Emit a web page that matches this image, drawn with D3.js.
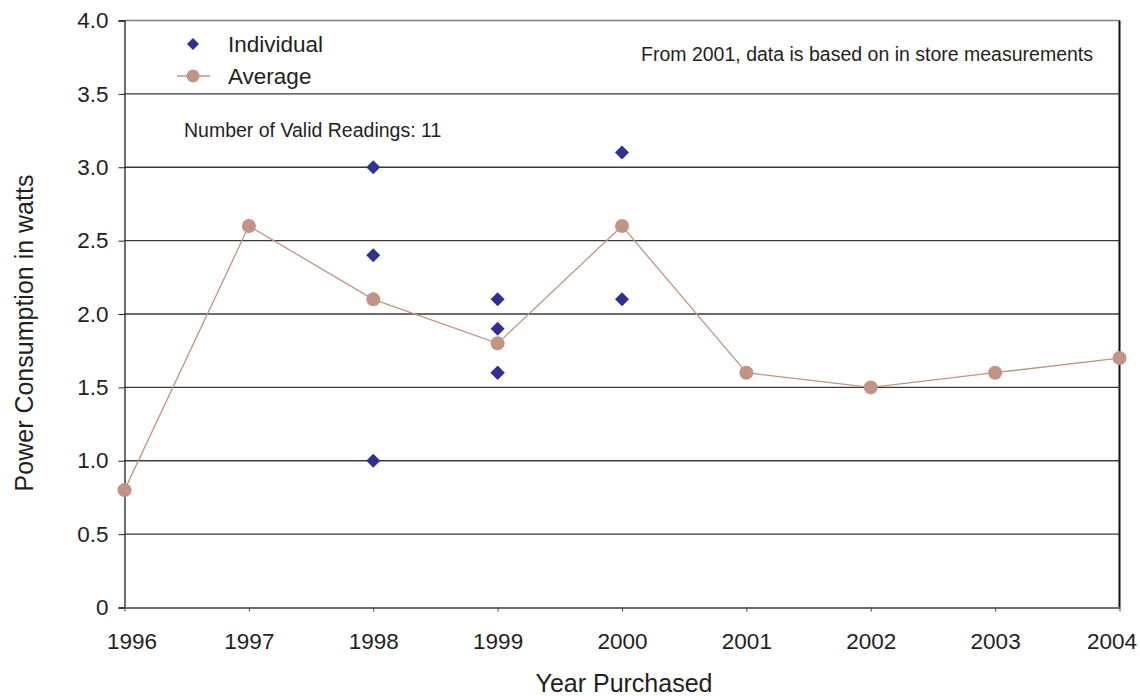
<!DOCTYPE html>
<html>
<head>
<meta charset="utf-8">
<script src="https://cdn.jsdelivr.net/npm/d3@7"></script>
<style>
  body { margin: 0; background: #fff; }
  text { font-family: "Liberation Sans", Arial, sans-serif; fill: #231f20; }
</style>
</head>
<body>
<script>
// data
var years = [1996, 1997, 1998, 1999, 2000, 2001, 2002, 2003, 2004]
var averages = [0.8, 2.6, 2.1, 1.8, 2.6, 1.6, 1.5, 1.6, 1.7]
var indivYears = [1996, 1997, 1998, 1998, 1998, 1999, 1999, 1999, 1999, 2000, 2000]
var indivValues = [0.8, 2.6, 3.0, 2.4, 1.0, 2.1, 1.9, 1.6, 1.6, 3.1, 2.1]
var yTicks = [0, 0.5, 1.0, 1.5, 2.0, 2.5, 3.0, 3.5, 4.0]

var w = 1140
var h = 696
var plotL = 124.5, plotR = 1119.5, plotT = 20.5, plotB = 607.5

var svg = d3.select("body").append("svg")
    .attr("width", w)
    .attr("height", h)

var xScale = d3.scaleLinear().domain([1996, 2004]).range([plotL, plotR])
var yScale = d3.scaleLinear().domain([0, 4]).range([plotB, plotT])

// grid lines
svg.append("g").selectAll("line").data(yTicks.slice(1)).enter()
    .append("line")
    .attr("x1", plotL).attr("x2", plotR)
    .attr("y1", function (d) { return yScale(d) })
    .attr("y2", function (d) { return yScale(d) })
    .attr("stroke", function (d) { return d == 4 ? "#7a8288" : "#3a3a3a" })
    .attr("stroke-width", 1.3)

// right border
svg.append("line")
    .attr("x1", plotR).attr("x2", plotR)
    .attr("y1", plotT).attr("y2", plotB)
    .attr("stroke", "#111").attr("stroke-width", 2)

var yAxis = d3.axisLeft(yScale)
    .tickValues(yTicks)
    .tickSize(6)
    .tickPadding(10)
    .tickFormat(function (d) { return d == 0 ? "0" : d3.format(".1f")(d) })

var gy = svg.append("g")
    .attr("transform", "translate(" + plotL + ",0)")
    .call(yAxis)
gy.select(".domain").attr("stroke", "#231f20").attr("stroke-width", 1.3)
gy.selectAll(".tick line").attr("stroke", "#231f20")
gy.selectAll("text").style("font-size", "22.5px").attr("fill", "#231f20")

var xAxis = d3.axisBottom(xScale)
    .tickValues(years)
    .tickSize(4)
    .tickSizeOuter(0)
    .tickPadding(22)
    .tickFormat(d3.format("d"))

var gx = svg.append("g")
    .attr("transform", "translate(0," + plotB + ")")
    .call(xAxis)
gx.select(".domain").attr("stroke", "#6b6e70").attr("stroke-width", 2)
gx.selectAll(".tick line").attr("stroke", "#444")
gx.selectAll("text").style("font-size", "22.5px").attr("fill", "#231f20")
    .attr("x", function (d) { return d == 1996 ? 7 : d == 2004 ? -8 : 0 })

// average line
var line = d3.line()
    .x(function (d, i) { return xScale(years[i]) })
    .y(function (d) { return yScale(d) })

var blue = "#2e3192"
var rose = "#c29485"
var diamond = d3.symbol().type(d3.symbolDiamond2).size(125)

svg.append("g").selectAll("path").data(indivValues).enter()
    .append("path")
    .attr("d", diamond)
    .attr("transform", function (d, i) {
        return "translate(" + xScale(indivYears[i]) + "," + yScale(d) + ")"
    })
    .attr("fill", blue)

svg.append("path")
    .datum(averages)
    .attr("d", line)
    .attr("fill", "none")
    .attr("stroke", rose)
    .attr("stroke-width", 1.3)

svg.append("g").selectAll("circle").data(averages).enter()
    .append("circle")
    .attr("cx", function (d, i) { return xScale(years[i]) })
    .attr("cy", function (d) { return yScale(d) })
    .attr("r", 7)
    .attr("fill", rose)

// legend
svg.append("path").attr("d", d3.symbol().type(d3.symbolDiamond2).size(92))
    .attr("transform", "translate(193,44)")
    .attr("fill", blue)
svg.append("text").attr("x", 228).attr("y", 52)
    .style("font-size", "22.5px").text("Individual")
svg.append("line").attr("x1", 177).attr("x2", 210)
    .attr("y1", 76).attr("y2", 76)
    .attr("stroke", rose).attr("stroke-width", 1.3)
svg.append("circle").attr("cx", 193).attr("cy", 76).attr("r", 6.5).attr("fill", rose)
svg.append("text").attr("x", 228).attr("y", 84)
    .style("font-size", "22.5px").text("Average")

// notes
svg.append("text").attr("x", 184).attr("y", 137)
    .style("font-size", "19.5px").text("Number of Valid Readings: 11")
svg.append("text").attr("x", 1093).attr("y", 61)
    .attr("text-anchor", "end")
    .style("font-size", "19.5px").text("From 2001, data is based on in store measurements")

// axis titles
svg.append("text")
    .attr("transform", "translate(33,333) rotate(-90)")
    .attr("text-anchor", "middle")
    .style("font-size", "25px").text("Power Consumption in watts")
svg.append("text").attr("x", 624).attr("y", 692)
    .attr("text-anchor", "middle")
    .style("font-size", "25px").text("Year Purchased")
</script>
</body>
</html>
